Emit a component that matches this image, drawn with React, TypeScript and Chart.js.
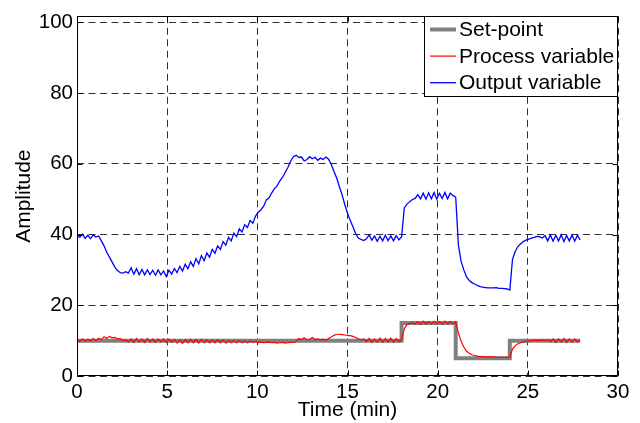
import { useEffect, useRef } from "react";
import { Chart, registerables } from "chart.js";

Chart.register(...registerables);

const FONT = "'Liberation Sans', Arial, Helvetica, sans-serif";

const timeMin = [
  0, 0.15, 0.3, 0.45, 0.6, 0.75, 0.9, 1.05, 1.2, 1.35,
  1.5, 1.65, 1.8, 1.95, 2.1, 2.25, 2.4, 2.55, 2.7, 2.85,
  3, 3.15, 3.3, 3.45, 3.6, 3.75, 3.9, 4.05, 4.2, 4.35,
  4.5, 4.65, 4.8, 4.95, 5.1, 5.25, 5.4, 5.55, 5.7, 5.85,
  6, 6.15, 6.3, 6.45, 6.6, 6.75, 6.9, 7.05, 7.2, 7.35,
  7.5, 7.65, 7.8, 7.95, 8.1, 8.25, 8.4, 8.55, 8.7, 8.85,
  9, 9.15, 9.3, 9.45, 9.6, 9.75, 9.9, 10.05, 10.2, 10.35,
  10.5, 10.65, 10.8, 10.95, 11.1, 11.25, 11.4, 11.55, 11.7, 11.85,
  12, 12.15, 12.3, 12.45, 12.6, 12.75, 12.9, 13.05, 13.2, 13.35,
  13.5, 13.65, 13.8, 13.95, 14.1, 14.25, 14.4, 14.55, 14.7, 14.85,
  15, 15.15, 15.3, 15.45, 15.6, 15.75, 15.9, 16.05, 16.2, 16.35,
  16.5, 16.65, 16.8, 16.95, 17.1, 17.25, 17.4, 17.55, 17.7, 17.85,
  18, 18.15, 18.3, 18.45, 18.6, 18.75, 18.9, 19.05, 19.2, 19.35,
  19.5, 19.65, 19.8, 19.95, 20.1, 20.25, 20.4, 20.55, 20.7, 20.85,
  21, 21.15, 21.3, 21.45, 21.6, 21.75, 21.9, 22.05, 22.2, 22.35,
  22.5, 22.65, 22.8, 22.95, 23.1, 23.25, 23.4, 23.55, 23.7, 23.85,
  24, 24.15, 24.3, 24.45, 24.6, 24.75, 24.9, 25.05, 25.2, 25.35,
  25.5, 25.65, 25.8, 25.95, 26.1, 26.25, 26.4, 26.55, 26.7, 26.85,
  27, 27.15, 27.3, 27.45, 27.6, 27.75, 27.9,
];

const outputVariable = [
  40.0, 39.2, 40.1, 38.9, 39.8, 38.8, 39.9, 39.3, 39.6, 38.2,
  36.8, 35.0, 33.6, 32.2, 30.8, 29.8, 29.2, 29.1, 29.5, 29.1,
  30.6, 28.8, 30.3, 28.6, 30.1, 28.6, 30.0, 28.7, 29.9, 28.5,
  30.0, 28.6, 29.7, 28.1, 29.9, 28.8, 30.4, 29.2, 31.0, 29.7,
  31.6, 30.3, 32.3, 31.0, 33.2, 31.7, 34.0, 32.6, 34.8, 33.6,
  35.8, 34.7, 36.8, 35.8, 38.0, 37.0, 39.2, 38.2, 40.4, 39.4,
  41.6, 40.7, 42.8, 42.0, 44.0, 43.2, 45.2, 46.3, 47.0, 48.0,
  49.8, 50.4, 51.8, 53.0, 53.8, 55.2, 56.2, 57.6, 59.0, 60.8,
  62.0, 62.4, 61.8, 61.9, 60.8, 61.2, 62.0, 61.4, 61.8, 61.0,
  61.6, 61.2, 61.9, 61.3, 59.8, 57.8, 56.0, 53.5, 51.2, 48.5,
  46.0, 44.0, 42.2, 40.3, 39.0, 38.6, 38.3, 38.8, 39.9, 38.4,
  39.6, 38.1, 39.5, 38.2, 39.8, 38.3, 39.6, 38.2, 39.7, 38.5,
  39.4, 47.5, 48.6, 49.3, 49.9, 50.2, 51.3, 50.1, 51.7, 50.0,
  51.8, 50.1, 51.9, 50.0, 51.7, 50.2, 51.9, 50.1, 51.7, 51.0,
  50.6, 37.0, 32.4, 30.0, 28.0, 27.0, 26.4, 26.0, 25.6, 25.3,
  25.1, 25.0, 24.9, 24.9, 24.9, 25.0, 24.8, 24.8, 24.7, 24.6,
  24.3, 33.0, 35.2, 36.6, 37.4, 38.0, 38.4, 38.7, 39.0, 39.2,
  39.5, 39.4, 39.0, 39.7, 38.2, 39.9, 38.1, 39.8, 38.2, 39.9,
  38.0, 39.7, 38.2, 39.9, 38.1, 39.8, 38.5,
];

const processVariable = [
  10.2, 9.7, 10.5, 9.8, 10.4, 9.9, 10.6, 10.0, 10.7, 10.3,
  11.1, 10.6, 11.2, 10.8, 10.9, 10.5, 10.6, 10.0, 10.2, 9.6,
  10.5, 9.5, 10.6, 9.6, 10.5, 9.5, 10.6, 9.6, 10.5, 9.5,
  10.5, 9.6, 10.5, 9.5, 10.4, 9.6, 10.3, 9.3, 10.2, 9.2,
  10.3, 9.4, 10.4, 9.4, 10.3, 9.3, 10.4, 9.4, 10.3, 9.4,
  10.2, 9.4, 10.3, 9.4, 10.2, 9.3, 10.1, 9.4, 10.0, 9.4,
  10.0, 9.4, 9.9, 9.4, 9.9, 9.6, 9.7, 9.5, 9.6, 9.4,
  9.5, 9.6, 9.4, 9.5, 9.3, 9.4, 9.5, 9.3, 9.4, 9.5,
  9.5, 9.8, 10.6, 10.3, 10.8, 10.2, 10.4, 10.9, 10.3, 10.5,
  10.2, 10.4, 10.1, 10.6, 11.0, 11.5, 11.8, 11.8, 11.7, 11.6,
  11.5, 11.4, 11.2, 10.9, 10.5, 10.2, 10.5, 9.7, 10.6, 9.5,
  10.5, 9.6, 10.7, 9.5, 10.6, 9.6, 10.7, 9.5, 10.6, 9.7,
  10.2, 13.3, 14.6, 14.8, 15.0, 14.7, 15.4, 14.6, 15.5, 14.7,
  15.4, 14.6, 15.5, 14.7, 15.4, 14.6, 15.5, 14.7, 15.4, 14.8,
  15.2, 12.2, 9.8, 8.2, 7.0, 6.4, 6.0, 5.8, 5.6, 5.5,
  5.5, 5.4, 5.4, 5.4, 5.4, 5.3, 5.3, 5.3, 5.3, 5.3,
  5.4, 7.6, 8.6, 9.1, 9.4, 9.6, 9.8, 9.9, 10.0, 10.1,
  10.1, 10.0, 10.2, 10.0, 10.3, 9.7, 10.5, 9.5, 10.5, 9.6,
  10.6, 9.5, 10.5, 9.6, 10.5, 9.6, 10.2,
];

const setPointTime = [0, 18, 18, 21, 21, 24, 24, 27.9];
const setPointValue = [10, 10, 15, 15, 5, 5, 10, 10];

const xTicks = [0, 5, 10, 15, 20, 25, 30];
const yTicks = [0, 20, 40, 60, 80, 100];

const seriesLabels = ["Set-point", "Process variable", "Output variable"];

const boxPlugin = {
  id: "matlabBox",
  afterDatasetsDraw(chart: any) {
    const { ctx, chartArea } = chart;
    const l = Math.round(chartArea.left) + 0.5;
    const t = Math.round(chartArea.top) + 0.5;
    const r = Math.round(chartArea.right) - 0.5;
    const b = Math.round(chartArea.bottom) - 0.5;
    ctx.save();
    ctx.strokeStyle = "#000";
    ctx.lineWidth = 1;
    ctx.setLineDash([]);
    ctx.beginPath();
    ctx.rect(l, t, r - l, b - t);
    const xs = chart.scales.x;
    const ys = chart.scales.y;
    xTicks.forEach((v) => {
      const px = Math.round(xs.getPixelForValue(v)) + 0.5;
      ctx.moveTo(px, b);
      ctx.lineTo(px, b - 5);
      ctx.moveTo(px, t);
      ctx.lineTo(px, t + 5);
    });
    yTicks.forEach((v) => {
      const py = Math.round(ys.getPixelForValue(v)) + 0.5;
      ctx.moveTo(l, py);
      ctx.lineTo(l + 5, py);
      ctx.moveTo(r, py);
      ctx.lineTo(r - 5, py);
    });
    ctx.stroke();
    ctx.restore();
  },
};

const legendPlugin = {
  id: "matlabLegend",
  afterDraw(chart: any) {
    const { ctx, chartArea } = chart;
    const w = 194;
    const h = 81;
    const x0 = Math.round(chartArea.right) - w;
    const y0 = Math.round(chartArea.top);
    ctx.save();
    ctx.fillStyle = "#fff";
    ctx.fillRect(x0, y0, w, h);
    ctx.strokeStyle = "#000";
    ctx.lineWidth = 1;
    ctx.setLineDash([]);
    ctx.strokeRect(x0 + 0.5, y0 + 0.5, w - 1, h - 1);
    ctx.font = `21px ${FONT}`;
    ctx.textBaseline = "middle";
    ctx.textAlign = "left";
    chart.data.datasets.forEach((ds: any, i: number) => {
      const y = y0 + 13.5 + i * 26.6;
      ctx.strokeStyle = ds.borderColor;
      ctx.lineWidth = ds.borderWidth;
      ctx.beginPath();
      ctx.moveTo(x0 + 6, y);
      ctx.lineTo(x0 + 32, y);
      ctx.stroke();
      ctx.fillStyle = "#000";
      ctx.fillText(ds.label, x0 + 35, y + 1);
    });
    ctx.restore();
  },
};

export default function App() {
  const ref = useRef<HTMLCanvasElement | null>(null);

  useEffect(() => {
    if (!ref.current) return;
    const toPts = (xs: number[], ys: number[]) => xs.map((x, i) => ({ x, y: ys[i] }));
    const chart = new Chart(ref.current, {
      type: "line",
      data: {
        datasets: [
          {
            label: seriesLabels[0],
            data: toPts(setPointTime, setPointValue),
            borderColor: "#808080",
            borderWidth: 4,
            borderJoinStyle: "miter",
            borderCapStyle: "butt",
            pointRadius: 0,
            tension: 0,
            order: 2,
          },
          {
            label: seriesLabels[1],
            data: toPts(timeMin, processVariable),
            borderColor: "#ff0000",
            borderWidth: 1.2,
            pointRadius: 0,
            tension: 0,
            order: 1,
          },
          {
            label: seriesLabels[2],
            data: toPts(timeMin, outputVariable),
            borderColor: "#0000ff",
            borderWidth: 1.3,
            pointRadius: 0,
            tension: 0,
            order: 0,
          },
        ],
      },
      options: {
        animation: false,
        responsive: false,
        maintainAspectRatio: false,
        layout: { padding: { left: 0, top: 13, right: 22, bottom: 0 } },
        plugins: { legend: { display: false }, tooltip: { enabled: false } },
        scales: {
          x: {
            type: "linear",
            min: 0,
            max: 30,
            afterBuildTicks: (s: any) => {
              s.ticks = xTicks.map((v) => ({ value: v }));
            },
            afterFit: (s: any) => {
              s.height = 47;
            },
            grid: { color: "#303030", lineWidth: 1, drawTicks: false },
            border: { display: false, dash: [7, 4.5] },
            ticks: {
              color: "#000",
              font: { family: FONT, size: 20.5 },
              padding: 4,
              maxRotation: 0,
              autoSkip: false,
            },
            title: {
              display: true,
              text: "Time (min)",
              color: "#000",
              font: { family: FONT, size: 21 },
              padding: { top: 0, bottom: 0 },
            },
          },
          y: {
            type: "linear",
            min: 0,
            max: 101.7,
            afterBuildTicks: (s: any) => {
              s.ticks = yTicks.map((v) => ({ value: v }));
            },
            afterFit: (s: any) => {
              s.width = 77;
            },
            grid: { color: "#303030", lineWidth: 1, drawTicks: false },
            border: { display: false, dash: [7, 4.5] },
            ticks: {
              color: "#000",
              font: { family: FONT, size: 20.5 },
              padding: 4,
              autoSkip: false,
            },
            title: {
              display: true,
              text: "Amplitude",
              color: "#000",
              font: { family: FONT, size: 21 },
              padding: { top: 12, bottom: 0 },
            },
          },
        },
      },
      plugins: [boxPlugin, legendPlugin],
    } as any);
    return () => chart.destroy();
  }, []);

  return (
    <div style={{ position: "absolute", left: 0, top: 0, width: 640, height: 423, background: "#fff" }}>
      <canvas ref={ref} width={640} height={423} style={{ width: 640, height: 423, display: "block" }} />
    </div>
  );
}
